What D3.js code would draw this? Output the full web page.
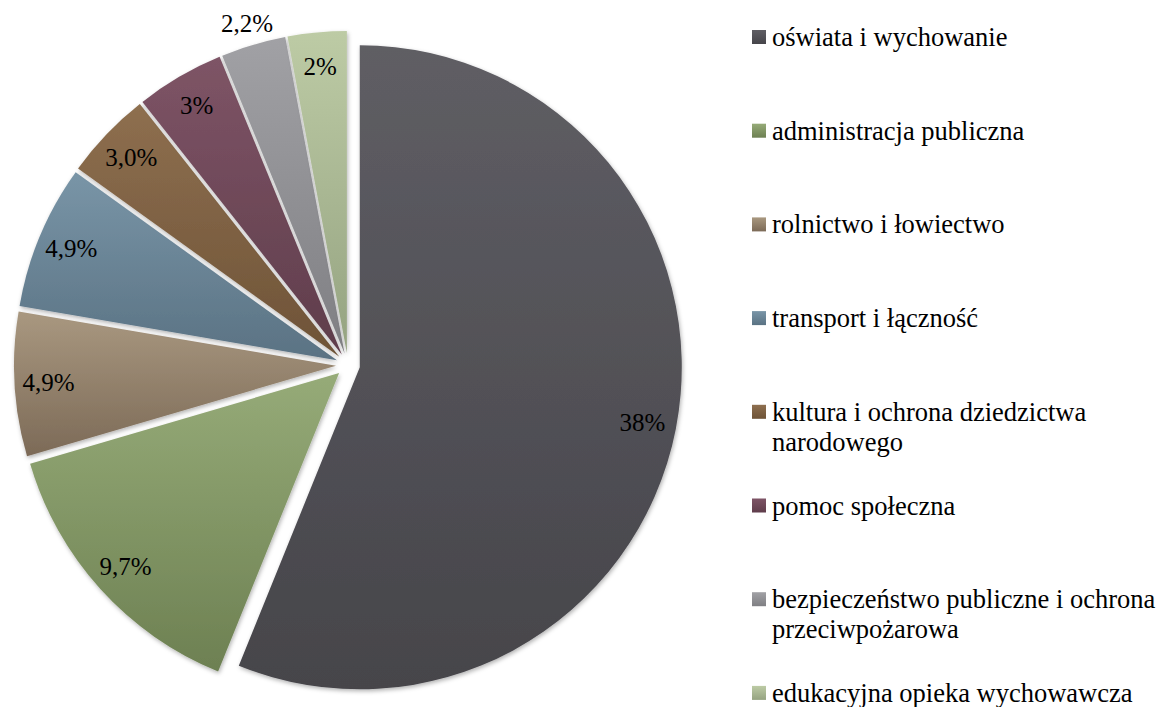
<!DOCTYPE html>
<html>
<head>
<meta charset="utf-8">
<script src="https://cdn.jsdelivr.net/npm/d3@7"></script>
<style>
  html, body { margin: 0; padding: 0; background: #fff; }
  svg { display: block; }
</style>
</head>
<body>
<div id="chart"></div>
<script>
// Data
var categories = [
    "oświata i wychowanie",
    "administracja publiczna",
    "rolnictwo i łowiectwo",
    "transport i łączność",
    "kultura i ochrona dziedzictwa narodowego",
    "pomoc społeczna",
    "bezpieczeństwo publiczne i ochrona przeciwpożarowa",
    "edukacyjna opieka wychowawcza"
];
var shares = [38, 9.7, 4.9, 4.9, 3.0, 3, 2.2, 2];
var valueLabels = ["38%", "9,7%", "4,9%", "4,9%", "3,0%", "3%", "2,2%", "2%"];

// gradient colours (top, bottom) for every slice
var colorTop = ["#5f5e64", "#96ab78", "#a99880", "#7995a7", "#8e6f4f", "#7e5466", "#a1a1a5", "#bdcba5"];
var colorBottom = ["#46454a", "#6d8052", "#7c6a57", "#5a7283", "#6e5337", "#5f3d4b", "#7f7f83", "#95a381"];

// labels that do not fit in their slice go outside
var outsideLabels = ["bezpieczeństwo publiczne i ochrona przeciwpożarowa"];

var serif = "'Liberation Serif', 'Times New Roman', Times, serif";

var width = 1161;
var height = 707;
var cx = 348, cy = 365;
var radius = 322;
var explode = 12;

var svg = d3.select("#chart")
    .append("svg")
    .attr("width", width)
    .attr("height", height);

var defs = svg.append("defs");

// soft shadow like the office charts
var shadow = defs.append("filter")
    .attr("id", "shadow")
    .attr("x", "-10%").attr("y", "-10%")
    .attr("width", "120%").attr("height", "120%");
shadow.append("feDropShadow")
    .attr("dx", 1).attr("dy", 2)
    .attr("stdDeviation", 2)
    .attr("flood-color", "#000")
    .attr("flood-opacity", 0.3);

// one vertical gradient per category
colorTop.forEach(function(c, i) {
    var g = defs.append("linearGradient")
        .attr("id", "grad" + i)
        .attr("x1", 0).attr("y1", 0)
        .attr("x2", 0).attr("y2", 1);
    g.append("stop").attr("offset", "0%").attr("stop-color", c);
    g.append("stop").attr("offset", "100%").attr("stop-color", colorBottom[i]);
});

var rows = categories.map(function(name, i) {
    return { name: name, value: shares[i], label: valueLabels[i], idx: i };
});

var pie = d3.pie()
    .sort(null)
    .value(function(d) { return d.value; });

var arc = d3.arc()
    .innerRadius(0)
    .outerRadius(radius);

var arcs = pie(rows);

// shift of a slice away from the centre
function offset(d, dist) {
    var mid = (d.startAngle + d.endAngle) / 2;
    return [Math.sin(mid) * dist, -Math.cos(mid) * dist];
}

var pieG = svg.append("g")
    .attr("transform", `translate(${cx}, ${cy})`);

pieG.selectAll("path.slice")
    .data(arcs)
    .enter()
    .append("path")
    .attr("class", "slice")
    .attr("d", arc)
    .attr("fill", function(d) { return "url(#grad" + d.data.idx + ")"; })
    .attr("filter", "url(#shadow)")
    .attr("transform", function(d) {
        var o = offset(d, explode);
        return `translate(${o[0]}, ${o[1]})`;
    });

// data labels
pieG.selectAll("text.valueLabel")
    .data(arcs)
    .enter()
    .append("text")
    .attr("class", "valueLabel")
    .attr("font-family", serif)
    .attr("font-size", 25)
    .attr("fill", "#000")
    .attr("text-anchor", "middle")
    .attr("dy", "0.33em")
    .attr("transform", function(d) {
        var r = outsideLabels.indexOf(d.data.name) >= 0 ? radius + 22 : radius - 34;
        var o = offset(d, explode + r);
        return `translate(${o[0]}, ${o[1]})`;
    })
    .text(function(d) { return d.data.label; });

// legend ###################################################
var legendX = 752;
var legendTop = 46;
var legendStep = 93.7;
var lineHeight = 30;
var maxTextWidth = width - legendX - 22;

var legend = svg.append("g").attr("class", "legend");

rows.forEach(function(d, i) {
    var base = legendTop + i * legendStep;
    var item = legend.append("g");

    item.append("rect")
        .attr("x", legendX)
        .attr("y", base - 16)
        .attr("width", 14)
        .attr("height", 14)
        .attr("fill", "url(#grad" + i + ")");

    var text = item.append("text")
        .attr("font-family", serif)
        .attr("font-size", 26.5)
        .attr("fill", "#000")
        .attr("x", legendX + 20)
        .attr("y", base);

    // wrap long names on words
    var words = d.name.split(" ");
    var line = [];
    var tspan = text.append("tspan").attr("x", legendX + 20).attr("y", base);
    var lineNo = 0;
    words.forEach(function(w) {
        line.push(w);
        tspan.text(line.join(" "));
        if (tspan.node().getComputedTextLength() > maxTextWidth && line.length > 1) {
            line.pop();
            tspan.text(line.join(" "));
            line = [w];
            lineNo++;
            tspan = text.append("tspan")
                .attr("x", legendX + 20)
                .attr("y", base + lineNo * lineHeight)
                .text(w);
        }
    });
});
</script>
</body>
</html>
